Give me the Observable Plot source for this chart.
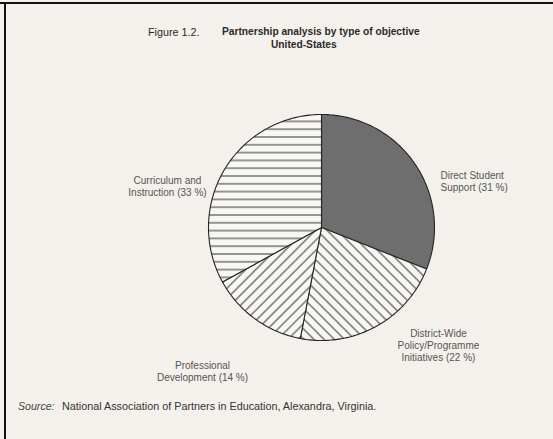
<!DOCTYPE html>
<html><head><meta charset="utf-8">
<script src="https://cdn.jsdelivr.net/npm/d3@7"></script>
<script src="https://cdn.jsdelivr.net/npm/@observablehq/plot@0.6"></script>
<style>
html,body{margin:0;padding:0;background:#f4f1ec;}
#page{position:relative;width:553px;height:439px;overflow:hidden;background:#f4f1ec;font-family:"Liberation Sans",Arial,sans-serif;color:#2a2a2a;}
.bt{position:absolute;left:0;top:2px;width:553px;height:2px;background:#111;}
.bl{position:absolute;left:4px;top:2px;width:2px;height:437px;background:#111;}
.t{position:absolute;font-size:10.2px;white-space:pre;line-height:1;}
#chart{position:absolute;left:0;top:0;}
</style></head>
<body><div id="page">
<div id="chart"></div>
<div class="bt"></div><div class="bl"></div>
<div class="t" style="left:148px;top:27px;font-size:10.8px;">Figure 1.2.</div>
<div class="t" style="left:222px;top:27px;font-weight:bold;">Partnership analysis by type of objective</div>
<div class="t" style="left:271px;top:40px;font-weight:bold;">United-States</div>
<div class="t" style="left:18px;top:401px;font-size:10.6px;font-style:italic;color:#444;">Source:</div>
<div class="t" style="left:62px;top:401px;font-size:10.8px;color:#333;">National Association of Partners in Education, Alexandra, Virginia.</div>
</div>
<script>
const categories = ["Direct Student Support", "District-Wide Policy/Programme Initiatives", "Professional Development", "Curriculum and Instruction"];
const values = [31, 22, 14, 33];
const labels = ["Direct Student\nSupport (31 %)", "District-Wide\nPolicy/Programme\nInitiatives (22 %)", "Professional\nDevelopment (14 %)", "Curriculum and\nInstruction (33 %)"];
const fills = ["#6e6e6e", "url(#hatchBack)", "url(#hatchFwd)", "url(#hatchH)"];

// layout (data units of the unit pie)
const labelPos = [
  {x: 1.053, y: 0.41, anchor: "start"},
  {x: 1.035, y: -1.045, anchor: "middle"},
  {x: -1.053, y: -1.27, anchor: "middle"},
  {x: -1.363, y: 0.366, anchor: "middle"}
];
const cx = 321, cy = 227, rx = 113, ry = 113;

const arcs = d3.pie().sort(null).startAngle(0).endAngle(2 * Math.PI)(values);
const pts = [];
arcs.forEach((a, i) => {
  pts.push({slice: categories[i], fill: fills[i], x: 0, y: 0});
  const n = Math.max(2, Math.ceil((a.endAngle - a.startAngle) / (Math.PI / 180)));
  for (let k = 0; k <= n; k++) {
    const t = a.startAngle + (a.endAngle - a.startAngle) * k / n;
    pts.push({slice: categories[i], fill: fills[i], x: Math.sin(t), y: Math.cos(t)});
  }
  pts.push({slice: categories[i], fill: fills[i], x: 0, y: 0});
});
const labelData = labels.map((l, i) => ({text: l, ...labelPos[i]}));

const svg = Plot.plot({
  width: 553, height: 439, margin: 0,
  style: {background: "transparent", overflow: "visible"},
  x: {domain: [-1, 1], range: [cx - rx, cx + rx], axis: null},
  y: {domain: [-1, 1], range: [cy + ry, cy - ry], axis: null},
  color: {type: "identity"},
  marks: [
    Plot.line(pts, {x: "x", y: "y", z: "slice", fill: "fill", stroke: "#262626", strokeWidth: 1.1, strokeLinejoin: "round"}),
    Plot.text(labelData.filter(d => d.anchor === "start"), {x: "x", y: "y", text: "text", textAnchor: "start", lineHeight: 1.25, fontSize: 10, fill: "#555", fontFamily: "Liberation Sans, Arial, sans-serif"}),
    Plot.text(labelData.filter(d => d.anchor === "middle"), {x: "x", y: "y", text: "text", textAnchor: "middle", lineHeight: 1.2, fontSize: 10, fill: "#555", fontFamily: "Liberation Sans, Arial, sans-serif"})
  ]
});
const ns = "http://www.w3.org/2000/svg";
const defs = document.createElementNS(ns, "defs");
defs.innerHTML = `
<pattern id="hatchH" patternUnits="userSpaceOnUse" width="10" height="7.8">
  <rect width="10" height="7.8" fill="#f8f7f4"/>
  <line x1="0" y1="3.9" x2="10" y2="3.9" stroke="#333" stroke-width="1"/>
</pattern>
<pattern id="hatchBack" patternUnits="userSpaceOnUse" width="10" height="7.2" patternTransform="rotate(45)">
  <rect width="10" height="7.2" fill="#f8f7f4"/>
  <line x1="0" y1="3.6" x2="10" y2="3.6" stroke="#333" stroke-width="1"/>
</pattern>
<pattern id="hatchFwd" patternUnits="userSpaceOnUse" width="10" height="7.2" patternTransform="rotate(-45)">
  <rect width="10" height="7.2" fill="#f8f7f4"/>
  <line x1="0" y1="3.6" x2="10" y2="3.6" stroke="#333" stroke-width="1"/>
</pattern>`;
svg.prepend(defs);
document.getElementById("chart").appendChild(svg);
</script>
</body></html>
